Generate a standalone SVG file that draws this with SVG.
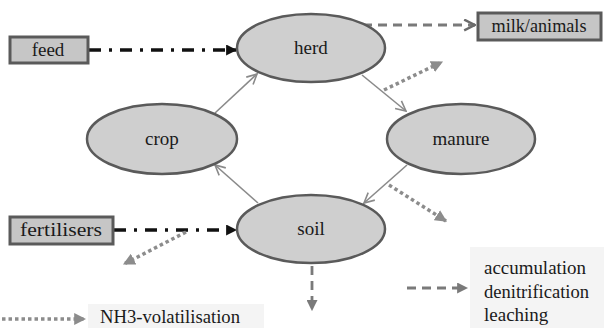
<svg xmlns="http://www.w3.org/2000/svg" width="604" height="328" viewBox="0 0 604 328">
<style>
.node ellipse{fill:#cfcfcf;stroke:#5a5a5a;stroke-width:2.5}
.box rect{fill:#c6c6c6;stroke:#5a5a5a;stroke-width:3}
.t{font-family:'Liberation Serif','Times New Roman',serif;font-size:19px;fill:#1a1a1a}
.lbl{text-anchor:middle}
.thin{fill:none;stroke:#8a8a8a;stroke-width:1.6}
.dashdot{fill:none;stroke:#111;stroke-width:3.5;stroke-dasharray:12 8 3 8}
.dot{fill:none;stroke:#8c8c8c;stroke-width:3.5;stroke-dasharray:3.5 3}
.dash{fill:none;stroke:#7a7a7a;stroke-width:2.8;stroke-dasharray:9 6}
</style>
<defs>
<marker id="blk" viewBox="0 0 10 10" refX="9" refY="5" markerWidth="11" markerHeight="11" markerUnits="userSpaceOnUse" orient="auto">
<path d="M0,0 L10,5 L0,10 Z" fill="#111"/>
</marker>
<marker id="chev" viewBox="0 0 12 12" refX="11" refY="6" markerWidth="12" markerHeight="12" markerUnits="userSpaceOnUse" orient="auto">
<path d="M1,1 L11,6 L1,11" fill="none" stroke="#8a8a8a" stroke-width="1.6"/>
</marker>
<marker id="chevD" viewBox="0 0 12 12" refX="11" refY="6" markerWidth="13" markerHeight="13" markerUnits="userSpaceOnUse" orient="auto">
<path d="M1,1 L11,6 L1,11" fill="none" stroke="#6a6a6a" stroke-width="2.2"/>
</marker>
<marker id="tri" viewBox="0 0 10 10" refX="9" refY="5" markerWidth="12" markerHeight="12" markerUnits="userSpaceOnUse" orient="auto">
<path d="M0,0 L10,5 L0,10 Z" fill="#8c8c8c"/>
</marker>
<marker id="triD" viewBox="0 0 10 10" refX="9" refY="5" markerWidth="11" markerHeight="11" markerUnits="userSpaceOnUse" orient="auto">
<path d="M0,0 L10,5 L0,10 Z" fill="#7a7a7a"/>
</marker>
</defs>
<rect width="604" height="328" fill="#ffffff"/>
<rect x="88" y="304" width="176" height="24" fill="#f4f4f4"/>
<rect x="470" y="247" width="134" height="81" fill="#f4f4f4"/>

<g id="connectors">
<path class="dashdot" d="M89,50 L236,50" marker-end="url(#blk)"/>
<path class="dashdot" d="M114,230 L236,230" marker-end="url(#blk)"/>
<path class="dash" d="M363,25 L475,25" marker-end="url(#chevD)"/>
<path class="thin" d="M215,113 L257,74" marker-end="url(#chev)"/>
<path class="thin" d="M362,75 L406,111" marker-end="url(#chev)"/>
<path class="thin" d="M407,165 L364,203" marker-end="url(#chev)"/>
<path class="thin" d="M258,203 L215,165" marker-end="url(#chev)"/>
<path class="dot" d="M384,90 L442,62" marker-end="url(#tri)"/>
<path class="dot" d="M389,185 L446,221" marker-end="url(#tri)"/>
<path class="dot" d="M186,232 L124,264" marker-end="url(#tri)"/>
<path class="dash" d="M312,266 L312,310" marker-end="url(#triD)"/>
<path class="dot" d="M2,319 L85,319" marker-end="url(#tri)"/>
<path class="dash" d="M407,288 L467,288" marker-end="url(#triD)"/>
</g>

<g id="herd" class="node"><ellipse cx="311" cy="48" rx="74" ry="34"/><text class="t lbl" x="311" y="54">herd</text></g>
<g id="crop" class="node"><ellipse cx="162" cy="139" rx="75" ry="35"/><text class="t lbl" x="162" y="145">crop</text></g>
<g id="manure" class="node"><ellipse cx="461" cy="139" rx="74" ry="35"/><text class="t lbl" x="461" y="145">manure</text></g>
<g id="soil" class="node"><ellipse cx="311" cy="229" rx="74" ry="34"/><text class="t lbl" x="311" y="235">soil</text></g>

<g id="feed" class="box"><rect x="10" y="37" width="78" height="26"/><text class="t lbl" x="48" y="56">feed</text></g>
<g id="fertilisers" class="box"><rect x="10" y="217" width="103" height="27"/><text class="t lbl" x="61" y="236" textLength="82" lengthAdjust="spacingAndGlyphs">fertilisers</text></g>
<g id="milk" class="box"><rect x="478" y="13" width="123" height="27"/><text class="t lbl" x="539" y="32" textLength="95" lengthAdjust="spacingAndGlyphs">milk/animals</text></g>

<g id="legend">
<text class="t" x="100" y="323" textLength="140" lengthAdjust="spacingAndGlyphs">NH3-volatilisation</text>
<text class="t" x="484" y="274" textLength="102" lengthAdjust="spacingAndGlyphs">accumulation</text>
<text class="t" x="484" y="298" textLength="105" lengthAdjust="spacingAndGlyphs">denitrification</text>
<text class="t" x="484" y="321">leaching</text>
</g>
</svg>
